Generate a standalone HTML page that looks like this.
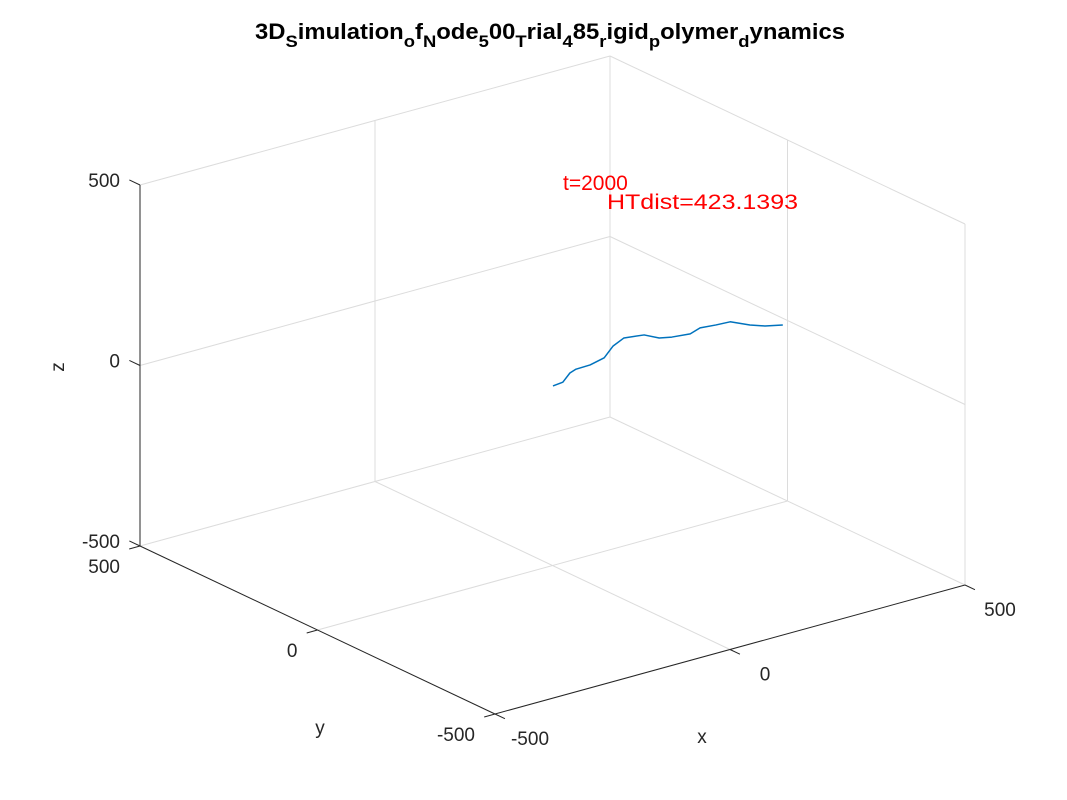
<!DOCTYPE html>
<html><head><meta charset="utf-8"><style>
html,body{margin:0;padding:0;background:#fff;}
svg{display:block;font-family:"Liberation Sans",Arial,sans-serif;}
</style></head><body>
<svg id="chart" width="1067" height="800" viewBox="0 0 1067 800">
<rect width="1067" height="800" fill="#fff"/>
<text x="550" y="39" text-anchor="middle" font-size="22" font-weight="bold" textLength="590" lengthAdjust="spacingAndGlyphs">3D<tspan font-size="17" dy="8">S</tspan><tspan dy="-8">imulation</tspan><tspan font-size="17" dy="8">o</tspan><tspan dy="-8">f</tspan><tspan font-size="17" dy="8">N</tspan><tspan dy="-8">ode</tspan><tspan font-size="17" dy="8">5</tspan><tspan dy="-8">00</tspan><tspan font-size="17" dy="8">T</tspan><tspan dy="-8">rial</tspan><tspan font-size="17" dy="8">4</tspan><tspan dy="-8">85</tspan><tspan font-size="17" dy="8">r</tspan><tspan dy="-8">igid</tspan><tspan font-size="17" dy="8">p</tspan><tspan dy="-8">olymer</tspan><tspan font-size="17" dy="8">d</tspan><tspan dy="-8">ynamics</tspan></text>
<g id="grid"></g>
<g id="axes"></g>
<g id="series"></g>
<text x="563" y="190" font-size="21" fill="#ff0000">t=2000</text>
<text x="607" y="209" font-size="21" fill="#ff0000" textLength="191" lengthAdjust="spacingAndGlyphs">HTdist=423.1393</text>
<text x="702" y="743" font-size="19" text-anchor="middle" fill="#262626">x</text>
<text x="320" y="734" font-size="19" text-anchor="middle" fill="#262626">y</text>
<text x="64" y="367" font-size="19" text-anchor="middle" fill="#262626" transform="rotate(-90 64 367)">z</text>
</svg>
<script>
const xTicks = [-500, 0, 500];
const yTicks = [-500, 0, 500];
const zTicks = [-500, 0, 500];
const curveX = [1, 22, 37, 50, 80, 110, 129, 152, 195, 227, 254, 293, 314, 348, 378, 420, 452, 490];
const curveY = [0, 0, 0, 0, 0, 0, 0, 0, 0, 0, 0, 0, 0, 0, 0, 0, 0, 0];
const curveZ = [-3, 0, 20, 26, 27, 36, 62, 76, 69, 49, 42, 37, 46, 42, 40, 16, 2, -9];

const NS = "http://www.w3.org/2000/svg";
function P(x, y, z) {
  return [495 + (x + 500) * 0.47 - (y + 500) * 0.355,
          714 - (x + 500) * 0.129 - (y + 500) * 0.168 - (z + 500) * 0.361];
}
function line(g, a, b, color, w, name) {
  const l = document.createElementNS(NS, "line");
  l.setAttribute("x1", a[0]); l.setAttribute("y1", a[1]);
  l.setAttribute("x2", b[0]); l.setAttribute("y2", b[1]);
  l.setAttribute("stroke", color); l.setAttribute("stroke-width", w);
  
  
  g.appendChild(l);
}
function text(g, p, s, anchor, name) {
  const t = document.createElementNS(NS, "text");
  t.setAttribute("x", p[0]); t.setAttribute("y", p[1]);
  t.setAttribute("font-size", "19"); t.setAttribute("fill", "#262626");
  t.setAttribute("text-anchor", anchor);
  t.textContent = s;
  
  
  g.appendChild(t);
}
const grid = document.getElementById("grid");
const axes = document.getElementById("axes");
const gc = "#dcdcdc";
line(grid, P(500,500,-500), P(500,500,500), gc, 1, "box-back-edge");
line(grid, P(-500,500,500), P(500,500,500), gc, 1, "box-top-edge");
line(grid, P(500,-500,500), P(500,500,500), gc, 1, "box-top-edge");
line(grid, P(-500,500,-500), P(500,500,-500), gc, 1, "box-floor-edge");
line(grid, P(500,-500,-500), P(500,500,-500), gc, 1, "box-floor-edge");
line(grid, P(500,-500,-500), P(500,-500,500), gc, 1, "box-right-edge");
xTicks.forEach(v => { if (v > -500 && v < 500) {
  line(grid, P(v,500,-500), P(v,500,500), gc, 1, "grid-line-x");
  line(grid, P(v,-500,-500), P(v,500,-500), gc, 1, "grid-line-x");
}});
yTicks.forEach(v => { if (v > -500 && v < 500) {
  line(grid, P(500,v,-500), P(500,v,500), gc, 1, "grid-line-y");
  line(grid, P(-500,v,-500), P(500,v,-500), gc, 1, "grid-line-y");
}});
zTicks.forEach(v => { if (v > -500 && v < 500) {
  line(grid, P(-500,500,v), P(500,500,v), gc, 1, "grid-line-z");
  line(grid, P(500,-500,v), P(500,500,v), gc, 1, "grid-line-z");
}});
const ac = "#262626";
line(axes, P(-500,-500,-500), P(500,-500,-500), ac, 1, "x-axis-line");
line(axes, P(-500,-500,-500), P(-500,500,-500), ac, 1, "y-axis-line");
line(axes, P(-500,500,-500), P(-500,500,500), ac, 1, "z-axis-line");
xTicks.forEach(v => {
  const t = P(v,-500,-500);
  line(axes, P(v,-500,-500), P(v,-528,-500), ac, 1, "x-tick");
  text(axes, [t[0] + 35, t[1] + 31], String(v), "middle", "x-tick-label");
});
yTicks.forEach(v => {
  const t = P(-500,v,-500);
  line(axes, P(-500,v,-500), P(-523,v,-500), ac, 1, "y-tick");
  text(axes, [t[0] - 20, t[1] + 27], String(v), "end", "y-tick-label");
});
zTicks.forEach(v => {
  const t = P(-500,500,v);
  line(axes, P(-500,500,v), P(-500,530,v), ac, 1, "z-tick");
  text(axes, [t[0] - 20, t[1] + 2], String(v), "end", "z-tick-label");
});
const series = document.getElementById("series");
const pl = document.createElementNS(NS, "polyline");
pl.setAttribute("points", curveX.map((x, i) => P(x, curveY[i], curveZ[i]).join(",")).join(" "));
pl.setAttribute("fill", "none");
pl.setAttribute("stroke", "#0072bd");
pl.setAttribute("stroke-width", "1.5");
pl.setAttribute("stroke-linejoin", "round");


series.appendChild(pl);
</script>
</body></html>
